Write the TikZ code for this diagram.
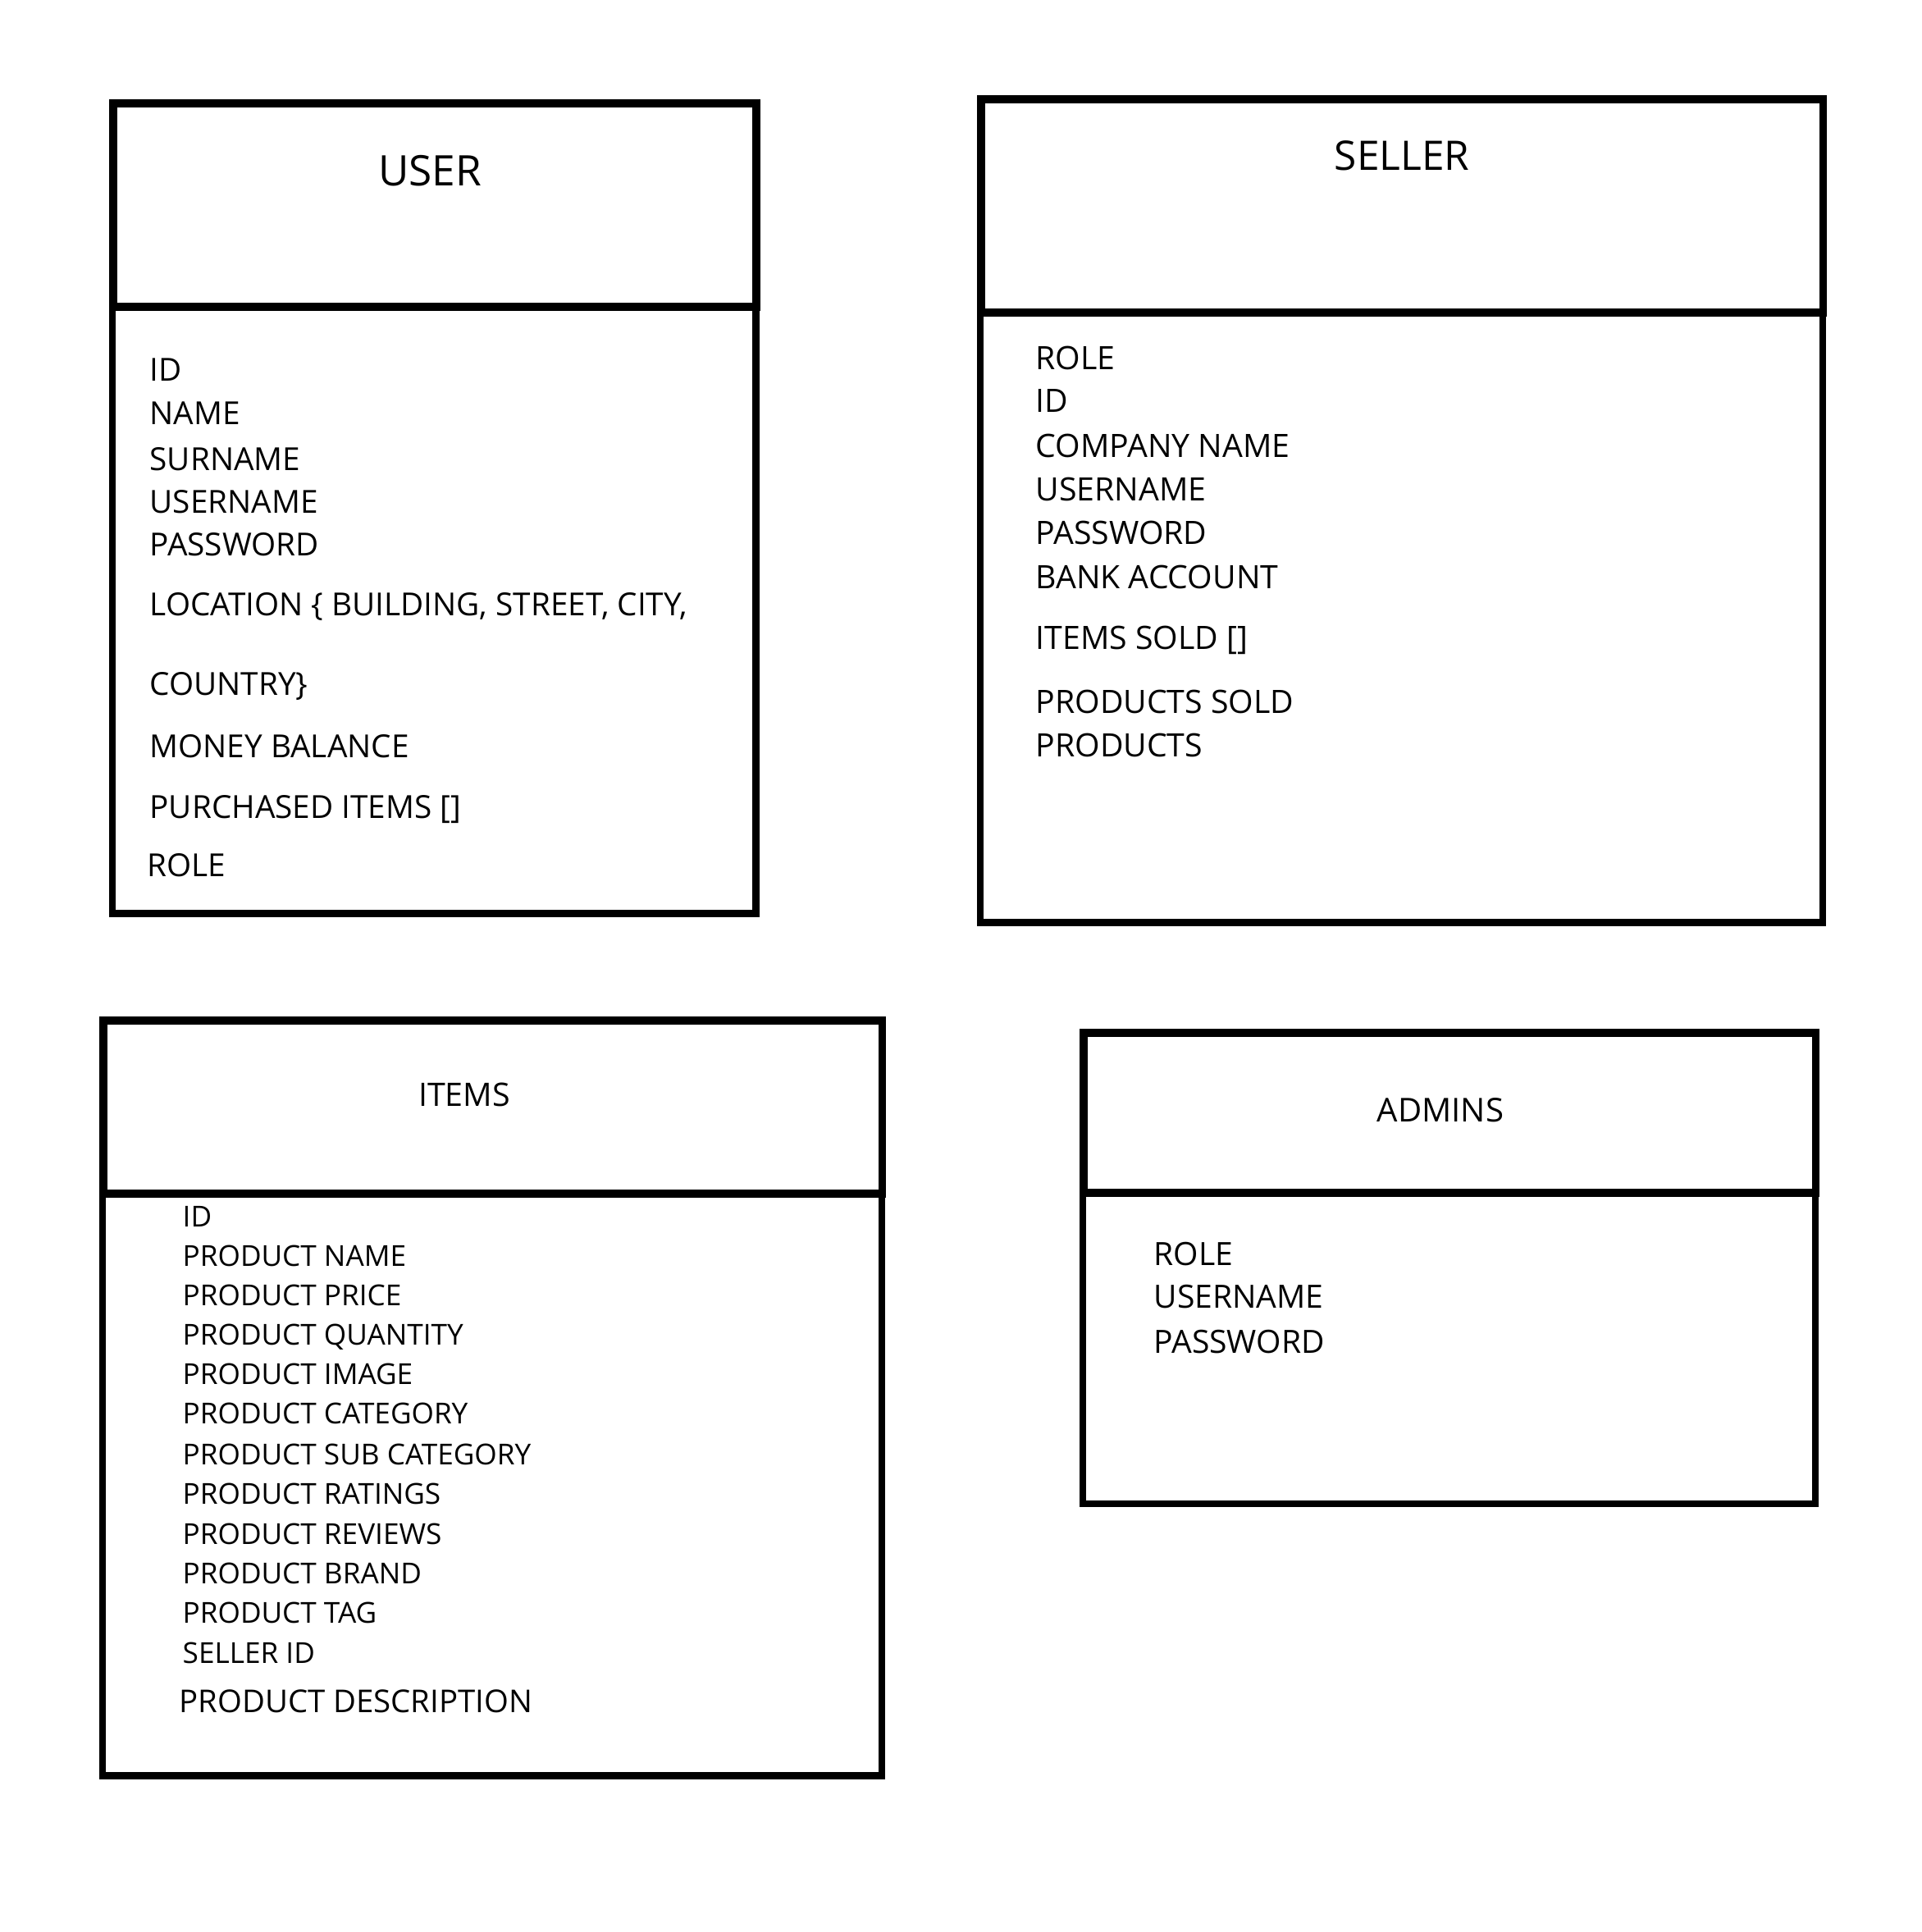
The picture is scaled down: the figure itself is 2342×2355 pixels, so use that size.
\documentclass[tikz,border=0pt]{standalone}
\usepackage{fontspec}
\setmainfont{Open Sans}
\usetikzlibrary{positioning}

\begin{document}
\begin{tikzpicture}[x=0.01cm, y=-0.01cm]

        % Setup the styles for the tables
        \tikzset{head style/.style={rectangle,
                                    anchor=north west,
                                    inner sep=0pt,
                                    line width=2.8pt,
                                    draw=black},
                 body style/.style={rectangle,
                                    anchor=north west,
                                    inner sep=0pt,
                                    line width=2.3pt,
                                    draw=black},
                 title style/.style={anchor=base, inner sep=0pt},
                 field style/.style={anchor=base west, inner sep=0pt}}

        \useasboundingbox (0,0) rectangle (2342,2355);

        % Draw the tables
        \node[body style, minimum width=7.84cm, minimum height=7.40cm]  (user body)   at (133,369)   {};
        \node[head style, minimum width=7.84cm, minimum height=2.48cm]  (user head)   at (133,121)   {};
        \node[body style, minimum width=10.26cm, minimum height=7.44cm] (seller body) at (1191,376)  {};
        \node[head style, minimum width=10.26cm, minimum height=2.60cm] (seller head) at (1191,116)  {};
        \node[body style, minimum width=9.49cm, minimum height=7.10cm]  (items body)  at (121,1450)  {};
        \node[head style, minimum width=9.49cm, minimum height=2.11cm]  (items head)  at (121,1239)  {};
        \node[body style, minimum width=8.92cm, minimum height=3.80cm]  (admins body) at (1316,1449) {};
        \node[head style, minimum width=8.92cm, minimum height=1.95cm]  (admins head) at (1316,1254) {};

        % Titles
        \node[title style, font=\fontsize{14.6}{17}\selectfont] (user title)   at (524,227)   {USER};
        \node[title style, font=\fontsize{14.1}{17}\selectfont] (seller title) at (1709,208)  {SELLER};
        \node[title style, font=\fontsize{11.2}{13}\selectfont] (items title)  at (566,1348)  {ITEMS};
        \node[title style, font=\fontsize{11.4}{13}\selectfont] (admins title) at (1756,1367) {ADMINS};

        % Fields
        \foreach \y/\t [count=\i] in {465/ID, 518/NAME, 573/SURNAME, 625/USERNAME, 677/PASSWORD,
                                       750/{LOCATION \{ BUILDING, STREET, CITY,}, 847/{COUNTRY\}},
                                       923/MONEY BALANCE, 997/{PURCHASED ITEMS []}}
            \node[field style, font=\fontsize{11.0}{13}\selectfont] (user f\i) at (182,\y) {\t};
        \node[field style, font=\fontsize{11.0}{13}\selectfont] (user f10) at (179,1068) {ROLE};

        \foreach \y/\t [count=\i] in {450/ROLE, 502/ID, 557/COMPANY NAME, 610/USERNAME, 663/PASSWORD,
                                       717/BANK ACCOUNT, 791/{ITEMS SOLD []}, 869/PRODUCTS SOLD, 922/PRODUCTS}
            \node[field style, font=\fontsize{11.15}{14}\selectfont] (seller f\i) at (1262,\y) {\t};

        \foreach \y/\t [count=\i] in {1495/ID, 1543/PRODUCT NAME, 1591/PRODUCT PRICE, 1639/PRODUCT QUANTITY,
                                       1687/PRODUCT IMAGE, 1735/PRODUCT CATEGORY, 1785/PRODUCT SUB CATEGORY,
                                       1833/PRODUCT RATINGS, 1882/PRODUCT REVIEWS, 1930/PRODUCT BRAND,
                                       1978/PRODUCT TAG, 2027/SELLER ID}
            \node[field style, font=\fontsize{10.0}{12}\selectfont] (items f\i) at (222,\y) {\t};
        \node[field style, font=\fontsize{10.9}{13}\selectfont] (items f13) at (218,2087) {PRODUCT DESCRIPTION};

        \foreach \y/\t [count=\i] in {1542/ROLE, 1594/USERNAME, 1649/PASSWORD}
            \node[field style, font=\fontsize{11.1}{14}\selectfont] (admins f\i) at (1406,\y) {\t};
    \end{tikzpicture}
\end{document}
